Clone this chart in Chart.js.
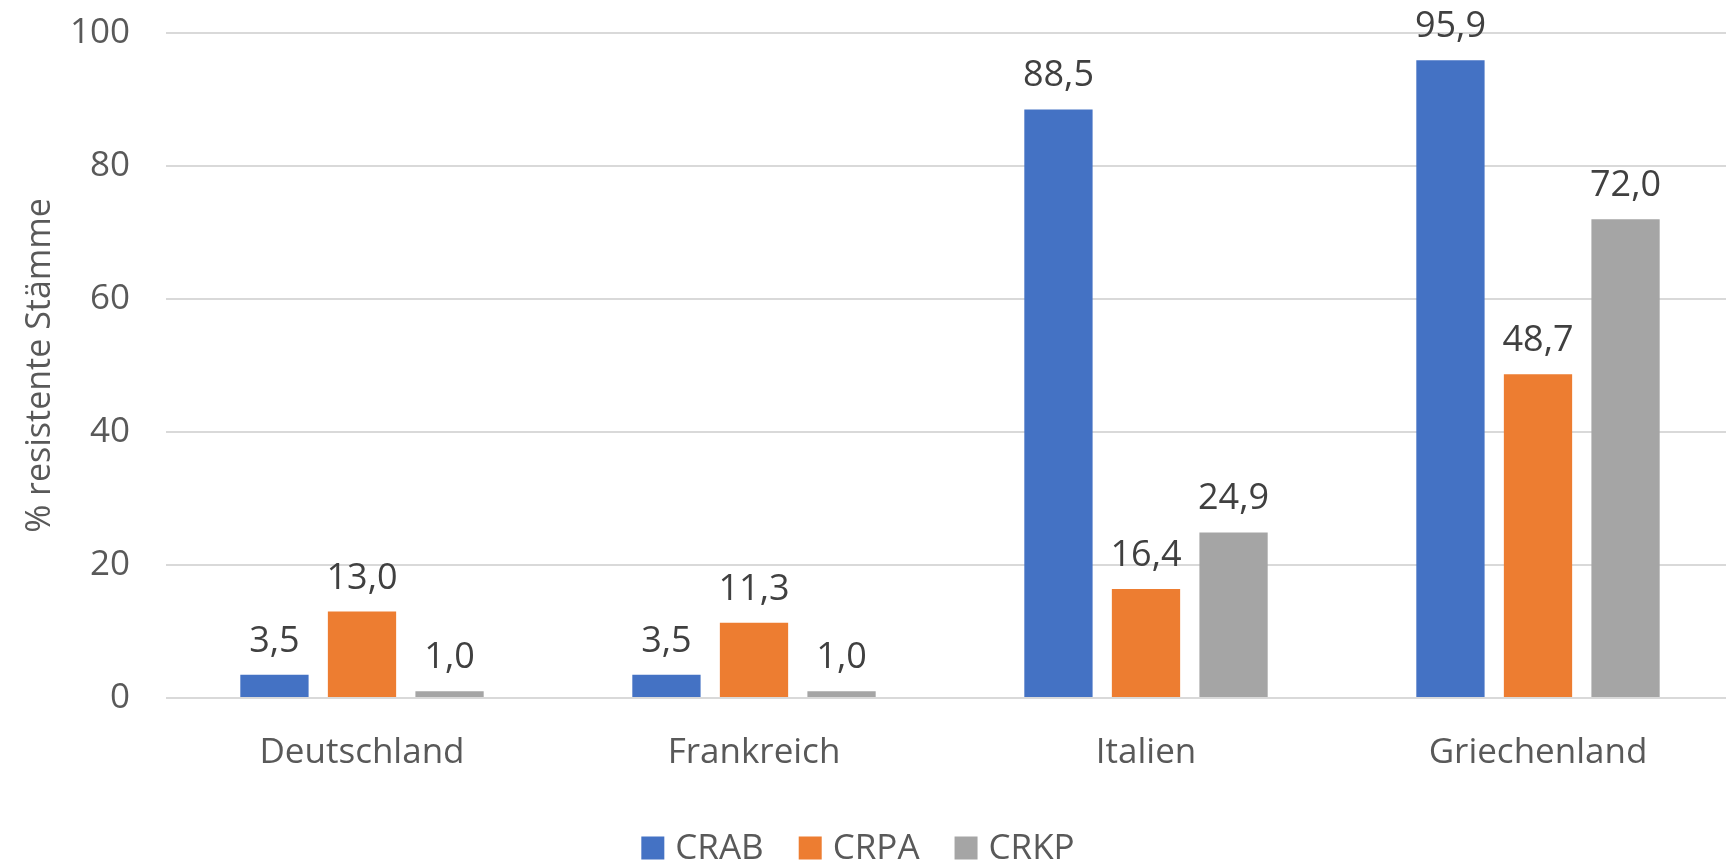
<!DOCTYPE html>
<html>
<head>
<meta charset="utf-8">
<script src="https://cdn.jsdelivr.net/npm/chart.js@4.4.0/dist/chart.umd.min.js"></script>
<style>
  html, body { margin: 0; padding: 0; background: #fff; overflow: hidden; }
  #wrap { width: 1734px; height: 863px; }
</style>
</head>
<body>
<div id="wrap"><canvas id="chart"></canvas></div>
<script>
// data
const categories = ["Deutschland", "Frankreich", "Italien", "Griechenland"];
const crab = [3.5, 3.5, 88.5, 95.9];
const crpa = [13.0, 11.3, 16.4, 48.7];
const crkp = [1.0, 1.0, 24.9, 72.0];
const yTicks = [0, 20, 40, 60, 80, 100];

const FONT = "'Open Sans', sans-serif";
const fmt = (v) => v.toFixed(1).replace(".", ",");

// value labels above each bar
const barLabels = {
  id: "barLabels",
  afterDatasetsDraw(chart) {
    const ctx = chart.ctx;
    ctx.save();
    ctx.font = "36px " + FONT;
    ctx.fillStyle = "#404040";
    ctx.textAlign = "center";
    ctx.textBaseline = "alphabetic";
    chart.data.datasets.forEach((ds, i) => {
      chart.getDatasetMeta(i).data.forEach((bar, j) => {
        ctx.fillText(fmt(ds.data[j]), bar.x, bar.y - 23);
      });
    });
    ctx.restore();
  },
};

// legend at the bottom, drawn by hand so it can sit low
const bottomLegend = {
  id: "bottomLegend",
  afterDraw(chart) {
    const ctx = chart.ctx;
    const box = 23, gapText = 11, gapItem = 35, cy = 848;
    ctx.save();
    ctx.font = "35px " + FONT;
    ctx.textBaseline = "middle";
    const items = chart.data.datasets.map((ds) => ({
      label: ds.label,
      color: ds.backgroundColor,
      w: box + gapText + ctx.measureText(ds.label).width,
    }));
    const total = items.reduce((s, it) => s + it.w, 0) + gapItem * (items.length - 1);
    let x = 858 - total / 2;
    items.forEach((it) => {
      ctx.fillStyle = it.color;
      ctx.fillRect(x, cy - box / 2, box, box);
      ctx.fillStyle = "#595959";
      ctx.fillText(it.label, x + box + gapText, cy + 1);
      x += it.w + gapItem;
    });
    ctx.restore();
  },
};

new Chart(document.getElementById("chart"), {
  type: "bar",
  data: {
    labels: categories,
    datasets: [
      { label: "CRAB", data: crab, backgroundColor: "#4472C4" },
      { label: "CRPA", data: crpa, backgroundColor: "#ED7D31" },
      { label: "CRKP", data: crkp, backgroundColor: "#A5A5A5" },
    ],
  },
  options: {
    responsive: true,
    maintainAspectRatio: false,
    animation: false,
    layout: { padding: { top: 33, right: 0, left: 0, bottom: 0 } },
    datasets: { bar: { categoryPercentage: 0.67, barPercentage: 0.78 } },
    plugins: {
      legend: { display: false },
      tooltip: { enabled: false },
    },
    scales: {
      x: {
        grid: { display: false, drawTicks: false },
        border: { display: false },
        ticks: { color: "#595959", font: { family: FONT, size: 35 }, padding: 34 },
        afterFit(scale) { scale.height = 165; },
      },
      y: {
        min: 0,
        max: 100,
        afterBuildTicks(scale) { scale.ticks = yTicks.map((v) => ({ value: v })); },
        grid: { color: "#D9D9D9", lineWidth: 2, drawTicks: false },
        border: { display: false },
        ticks: { color: "#595959", font: { family: FONT, size: 35 }, padding: 36 },
        title: {
          display: true,
          text: "% resistente Stämme",
          color: "#595959",
          font: { family: FONT, size: 34 },
          padding: { top: 20, bottom: 0 },
        },
        afterFit(scale) {
          scale.width = 166;
          scale.paddingTop = 0;
          scale.paddingBottom = 0;
        },
      },
    },
  },
  plugins: [barLabels, bottomLegend],
});
</script>
</body>
</html>
